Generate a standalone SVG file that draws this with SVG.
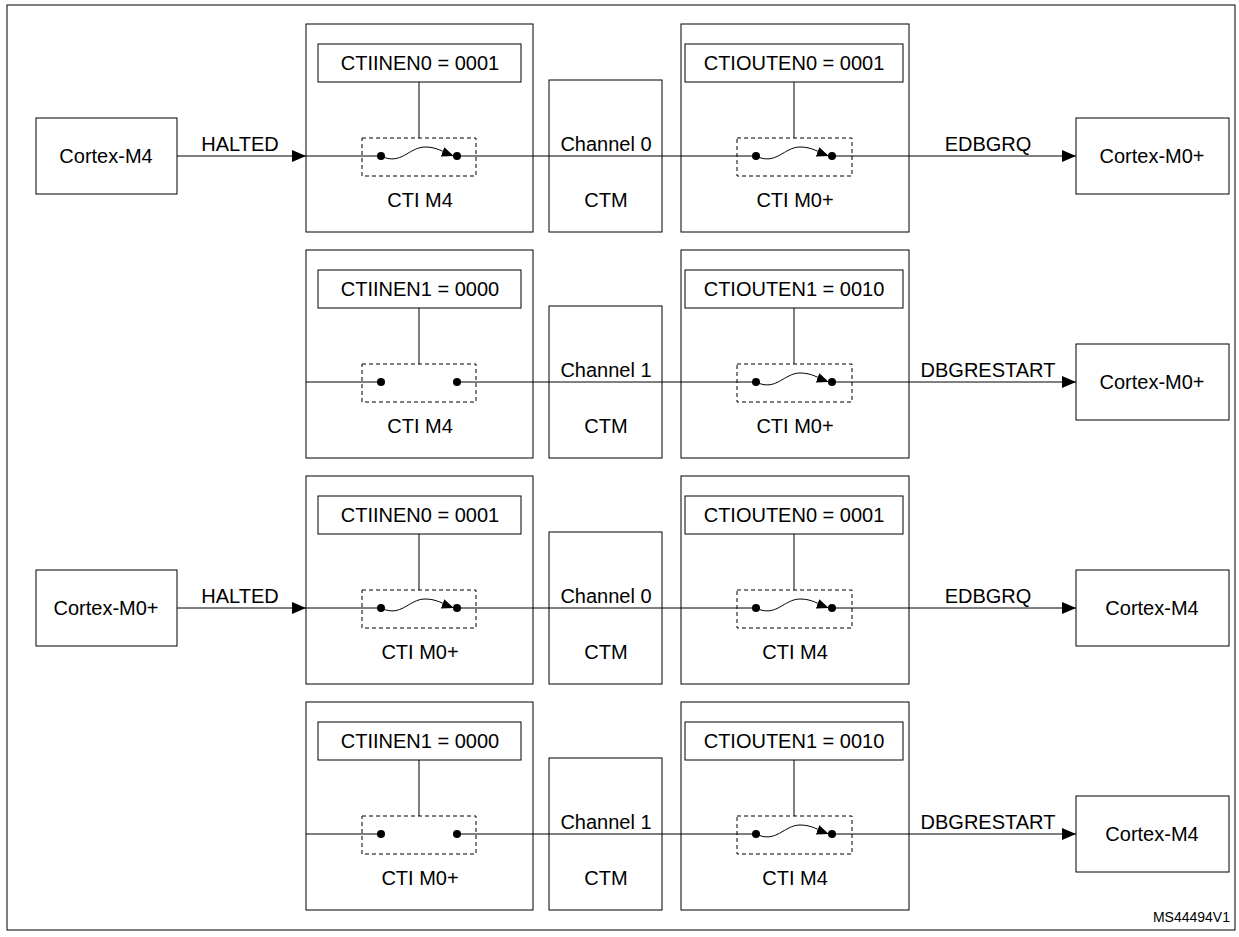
<svg xmlns="http://www.w3.org/2000/svg" width="1239" height="937" viewBox="0 0 1239 937">
<style>
rect{fill:#fff;stroke:#000;stroke-width:1}
rect.c{fill:none}
.d{stroke-dasharray:4 3;fill:none}
text{font-family:"Liberation Sans",Arial,sans-serif;font-size:20px;fill:#000;text-anchor:middle}
line,path.w{stroke:#000;stroke-width:1;fill:none}
path.h{fill:#000;stroke:none}
</style>
<defs>
<marker id="a" markerWidth="14" markerHeight="12" refX="14" refY="6" orient="auto" markerUnits="userSpaceOnUse"><path class="h" d="M0,0L14,6L0,12z"/></marker>
<marker id="s" markerWidth="12" markerHeight="10" refX="9" refY="5" orient="auto" markerUnits="userSpaceOnUse"><path class="h" d="M0,0L12,5L0,10z"/></marker>
<g id="sw"><circle cx="0" cy="0" r="4" fill="#000"/><circle cx="76" cy="0" r="4" fill="#000"/><path class="w" d="M0,0C20,10 28,-9 44,-9 56,-9 62,-4 70,-1" marker-end="url(#s)"/></g>
<g id="so"><circle cx="0" cy="0" r="4" fill="#000"/><circle cx="76" cy="0" r="4" fill="#000"/></g>
</defs>
<rect x="7" y="5" width="1228" height="925" stroke-width="1.5"/>
<g id="connectors">
<line x1="177" y1="156" x2="306" y2="156" marker-end="url(#a)"/>
<line x1="306" y1="156" x2="381" y2="156"/>
<line x1="457" y1="156" x2="756" y2="156"/>
<line x1="832" y1="156" x2="1076" y2="156" marker-end="url(#a)"/>
<line x1="306" y1="382" x2="381" y2="382"/>
<line x1="457" y1="382" x2="756" y2="382"/>
<line x1="832" y1="382" x2="1076" y2="382" marker-end="url(#a)"/>
<line x1="177" y1="608" x2="306" y2="608" marker-end="url(#a)"/>
<line x1="306" y1="608" x2="381" y2="608"/>
<line x1="457" y1="608" x2="756" y2="608"/>
<line x1="832" y1="608" x2="1076" y2="608" marker-end="url(#a)"/>
<line x1="306" y1="834" x2="381" y2="834"/>
<line x1="457" y1="834" x2="756" y2="834"/>
<line x1="832" y1="834" x2="1076" y2="834" marker-end="url(#a)"/>
<text x="240" y="151">HALTED</text><text x="988" y="151">EDBGRQ</text>
<text x="988" y="377">DBGRESTART</text>
<text x="240" y="603">HALTED</text><text x="988" y="603">EDBGRQ</text>
<text x="988" y="829">DBGRESTART</text>
</g>
<g id="src1"><rect x="36" y="118" width="141" height="76"/><text x="106" y="163">Cortex-M4</text></g>
<g id="src3"><rect x="36" y="570" width="141" height="76"/><text x="106" y="615">Cortex-M0+</text></g>
<g id="dst1"><rect x="1076" y="118" width="153" height="76"/><text x="1152" y="163">Cortex-M0+</text></g>
<g id="dst2"><rect x="1076" y="344" width="153" height="76"/><text x="1152" y="389">Cortex-M0+</text></g>
<g id="dst3"><rect x="1076" y="570" width="153" height="76"/><text x="1152" y="615">Cortex-M4</text></g>
<g id="dst4"><rect x="1076" y="796" width="153" height="76"/><text x="1152" y="841">Cortex-M4</text></g>

<g id="row1">
<g id="ctiA1"><rect class="c" x="306" y="24" width="227" height="208"/><rect x="318" y="44" width="203" height="38"/><text x="420" y="70">CTIINEN0 = 0001</text><line x1="419" y1="82" x2="419" y2="138"/><rect class="d" x="362" y="138" width="114" height="38"/><use href="#sw" x="381" y="156"/><text x="420" y="207">CTI M4</text></g>
<g id="ctm1"><rect class="c" x="549" y="80" width="113" height="152"/><text x="606" y="151">Channel 0</text><text x="606" y="207">CTM</text></g>
<g id="ctiB1"><rect class="c" x="681" y="24" width="228" height="208"/><rect x="685" y="44" width="218" height="38"/><text x="794" y="70">CTIOUTEN0 = 0001</text><line x1="794" y1="82" x2="794" y2="138"/><rect class="d" x="737" y="138" width="115" height="38"/><use href="#sw" x="756" y="156"/><text x="795" y="207">CTI M0+</text></g>
</g>
<g id="row2" transform="translate(0,226)">
<g id="ctiA2"><rect class="c" x="306" y="24" width="227" height="208"/><rect x="318" y="44" width="203" height="38"/><text x="420" y="70">CTIINEN1 = 0000</text><line x1="419" y1="82" x2="419" y2="138"/><rect class="d" x="362" y="138" width="114" height="38"/><use href="#so" x="381" y="156"/><text x="420" y="207">CTI M4</text></g>
<g id="ctm2"><rect class="c" x="549" y="80" width="113" height="152"/><text x="606" y="151">Channel 1</text><text x="606" y="207">CTM</text></g>
<g id="ctiB2"><rect class="c" x="681" y="24" width="228" height="208"/><rect x="685" y="44" width="218" height="38"/><text x="794" y="70">CTIOUTEN1 = 0010</text><line x1="794" y1="82" x2="794" y2="138"/><rect class="d" x="737" y="138" width="115" height="38"/><use href="#sw" x="756" y="156"/><text x="795" y="207">CTI M0+</text></g>
</g>
<g id="row3" transform="translate(0,452)">
<g id="ctiA3"><rect class="c" x="306" y="24" width="227" height="208"/><rect x="318" y="44" width="203" height="38"/><text x="420" y="70">CTIINEN0 = 0001</text><line x1="419" y1="82" x2="419" y2="138"/><rect class="d" x="362" y="138" width="114" height="38"/><use href="#sw" x="381" y="156"/><text x="420" y="207">CTI M0+</text></g>
<g id="ctm3"><rect class="c" x="549" y="80" width="113" height="152"/><text x="606" y="151">Channel 0</text><text x="606" y="207">CTM</text></g>
<g id="ctiB3"><rect class="c" x="681" y="24" width="228" height="208"/><rect x="685" y="44" width="218" height="38"/><text x="794" y="70">CTIOUTEN0 = 0001</text><line x1="794" y1="82" x2="794" y2="138"/><rect class="d" x="737" y="138" width="115" height="38"/><use href="#sw" x="756" y="156"/><text x="795" y="207">CTI M4</text></g>
</g>
<g id="row4" transform="translate(0,678)">
<g id="ctiA4"><rect class="c" x="306" y="24" width="227" height="208"/><rect x="318" y="44" width="203" height="38"/><text x="420" y="70">CTIINEN1 = 0000</text><line x1="419" y1="82" x2="419" y2="138"/><rect class="d" x="362" y="138" width="114" height="38"/><use href="#so" x="381" y="156"/><text x="420" y="207">CTI M0+</text></g>
<g id="ctm4"><rect class="c" x="549" y="80" width="113" height="152"/><text x="606" y="151">Channel 1</text><text x="606" y="207">CTM</text></g>
<g id="ctiB4"><rect class="c" x="681" y="24" width="228" height="208"/><rect x="685" y="44" width="218" height="38"/><text x="794" y="70">CTIOUTEN1 = 0010</text><line x1="794" y1="82" x2="794" y2="138"/><rect class="d" x="737" y="138" width="115" height="38"/><use href="#sw" x="756" y="156"/><text x="795" y="207">CTI M4</text></g>
</g>
<text x="1230" y="922" style="text-anchor:end;font-size:14px">MS44494V1</text>
</svg>
